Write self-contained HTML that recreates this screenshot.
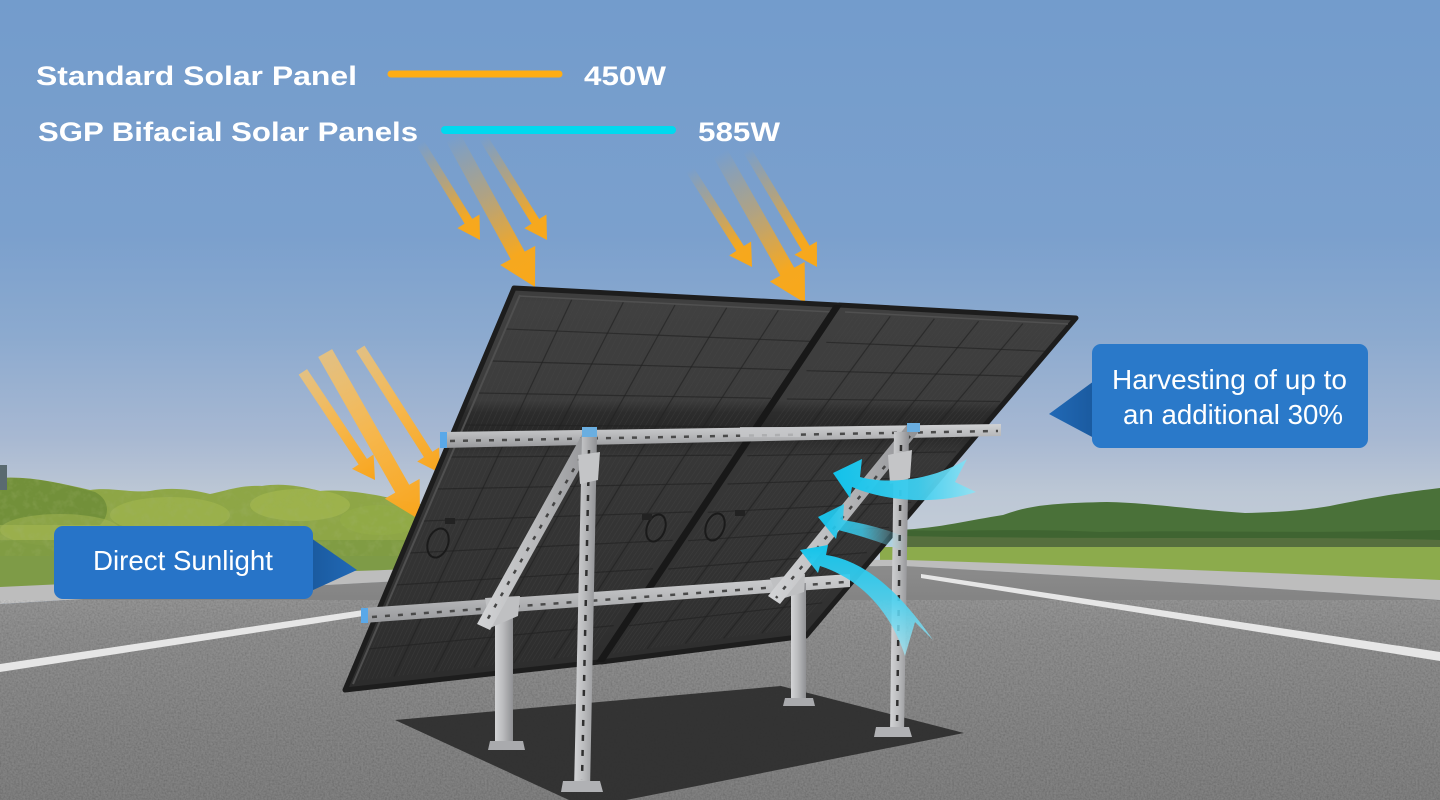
<!DOCTYPE html>
<html>
<head>
<meta charset="utf-8">
<style>
html,body{margin:0;padding:0;background:#7a9fcc;}
svg{display:block;}
text{font-family:"Liberation Sans","DejaVu Sans",sans-serif;}
</style>
</head>
<body>
<svg id="scene" width="1440" height="800" viewBox="0 0 1440 800" xmlns="http://www.w3.org/2000/svg">
<defs>
  <linearGradient id="sky" x1="0" y1="0" x2="0" y2="560" gradientUnits="userSpaceOnUse">
    <stop offset="0" stop-color="#739ccc"/>
    <stop offset="0.42" stop-color="#7ba0cd"/>
    <stop offset="0.6" stop-color="#8caacf"/>
    <stop offset="0.78" stop-color="#a7b8d2"/>
    <stop offset="0.88" stop-color="#bcc7d5"/>
    <stop offset="1" stop-color="#c6cfd9"/>
  </linearGradient>
  <linearGradient id="road" x1="0" y1="560" x2="0" y2="800" gradientUnits="userSpaceOnUse">
    <stop offset="0" stop-color="#8d8d8d"/>
    <stop offset="0.3" stop-color="#7c7c7c"/>
    <stop offset="0.7" stop-color="#717171"/>
    <stop offset="1" stop-color="#6b6b6b"/>
  </linearGradient>
  <linearGradient id="panelG" x1="0" y1="288" x2="0" y2="690" gradientUnits="userSpaceOnUse">
    <stop offset="0" stop-color="#3c3c3c"/>
    <stop offset="0.04" stop-color="#404040"/>
    <stop offset="0.28" stop-color="#3c3c3c"/>
    <stop offset="0.31" stop-color="#2c2c2c"/>
    <stop offset="0.36" stop-color="#272727"/>
    <stop offset="0.42" stop-color="#373737"/>
    <stop offset="0.75" stop-color="#323232"/>
    <stop offset="1" stop-color="#2c2c2c"/>
  </linearGradient>
  <linearGradient id="orTop" x1="0" y1="0" x2="1" y2="0">
    <stop offset="0" stop-color="#f5a623" stop-opacity="0"/>
    <stop offset="0.4" stop-color="#f4a726" stop-opacity="0.45"/>
    <stop offset="0.78" stop-color="#f6a81f" stop-opacity="1"/>
    <stop offset="1" stop-color="#f8a81a" stop-opacity="1"/>
  </linearGradient>
  <linearGradient id="orSide" x1="0" y1="0" x2="1" y2="0">
    <stop offset="0" stop-color="#fcc66a" stop-opacity="0.75"/>
    <stop offset="0.5" stop-color="#fab644" stop-opacity="0.95"/>
    <stop offset="1" stop-color="#f8a51c" stop-opacity="1"/>
  </linearGradient>
  <linearGradient id="cy1" x1="0" y1="0" x2="1" y2="0">
    <stop offset="0" stop-color="#12c2ea"/>
    <stop offset="0.6" stop-color="#3fcff0" stop-opacity="0.95"/>
    <stop offset="1" stop-color="#8fe3f5" stop-opacity="0.9"/>
  </linearGradient>
  <linearGradient id="cy2" x1="0" y1="0" x2="1" y2="0">
    <stop offset="0" stop-color="#14c3ea"/>
    <stop offset="0.5" stop-color="#3fcff0" stop-opacity="0.8"/>
    <stop offset="1" stop-color="#8fe3f5" stop-opacity="0"/>
  </linearGradient>
  <linearGradient id="cy3" x1="0" y1="0" x2="0" y2="1">
    <stop offset="0" stop-color="#14c3ea"/>
    <stop offset="0.5" stop-color="#4bd2f1" stop-opacity="0.9"/>
    <stop offset="1" stop-color="#a4e8f6" stop-opacity="0.75"/>
  </linearGradient>
  <linearGradient id="legG" x1="0" y1="0" x2="1" y2="0">
    <stop offset="0" stop-color="#d3d4d6"/>
    <stop offset="0.45" stop-color="#babbbd"/>
    <stop offset="1" stop-color="#8f9093"/>
  </linearGradient>
  <linearGradient id="railG" x1="0" y1="0" x2="0" y2="1">
    <stop offset="0" stop-color="#d0d1d3"/>
    <stop offset="0.45" stop-color="#b9babc"/>
    <stop offset="1" stop-color="#97989b"/>
  </linearGradient>
  <linearGradient id="triG" x1="0" y1="0" x2="1" y2="0">
    <stop offset="0" stop-color="#1a5a9f"/>
    <stop offset="1" stop-color="#2169b6"/>
  </linearGradient>
  <linearGradient id="triG2" x1="1" y1="0" x2="0" y2="0">
    <stop offset="0" stop-color="#1a5a9f"/>
    <stop offset="1" stop-color="#2169b6"/>
  </linearGradient>
  <filter id="noise" x="0" y="0" width="100%" height="100%">
    <feTurbulence type="fractalNoise" baseFrequency="0.55" numOctaves="2" seed="3"/>
    <feColorMatrix type="matrix" values="1 0 0 0 0  1 0 0 0 0  1 0 0 0 0  0 0 0 0 0.28"/>
  </filter>
  <filter id="leafy" x="0" y="0" width="100%" height="100%">
    <feTurbulence type="fractalNoise" baseFrequency="0.12" numOctaves="3" seed="7"/>
    <feColorMatrix type="matrix" values="0 0 0 0 0.35  0 0 0 0 0.45  0 0 0 0 0.15  1 0 0 0 -0.45"/>
  </filter>
  <clipPath id="treeClip">
    <path d="M0,560 L0,478 C30,476 60,483 90,490 C110,487 130,493 150,491 C170,487 190,489 210,494 C226,491 240,485 262,486 C282,483 300,486 320,491 C345,489 372,494 400,500 L430,506 L430,560 Z"/>
  </clipPath>
</defs>

<!-- SKY -->
<rect x="0" y="0" width="1440" height="600" fill="url(#sky)"/>

<!-- LEFT TREES -->
<path d="M0,560 L0,478 C30,476 60,483 90,490 C110,487 130,493 150,491 C170,487 190,489 210,494 C226,491 240,485 262,486 C282,483 300,486 320,491 C345,489 372,494 400,500 L430,506 L430,560 Z" fill="#8ea646"/>
<g clip-path="url(#treeClip)">
  <path d="M0,478 C30,476 60,483 95,492 C110,500 110,515 100,525 L0,525 Z" fill="#72903a"/>
  <ellipse cx="170" cy="515" rx="60" ry="18" fill="#a2b84e" opacity="0.6"/>
  <ellipse cx="300" cy="505" rx="50" ry="16" fill="#a6ba50" opacity="0.6"/>
  <ellipse cx="380" cy="520" rx="40" ry="15" fill="#93ad46" opacity="0.6"/>
  <ellipse cx="60" cy="530" rx="60" ry="16" fill="#a5b852" opacity="0.5"/>
  <rect x="0" y="540" width="430" height="20" fill="#7d9a42" opacity="0.8"/>
  <rect x="0" y="470" width="430" height="90" filter="url(#leafy)" opacity="0.7"/>
</g>
<rect x="0" y="465" width="7" height="25" fill="#5a6a70"/>

<!-- RIGHT HILL -->
<path d="M900,550 L900,530 C940,528 970,520 1003,515 C1030,505 1055,503 1107,502 C1150,503 1176,508 1245,513 C1280,512 1300,511 1330,506 C1360,500 1390,494 1440,488 L1440,550 Z" fill="#4a7139"/>
<path d="M900,550 L900,530 C960,532 1020,528 1100,532 C1200,530 1300,534 1440,530 L1440,550 Z" fill="#3f6431"/>
<path d="M900,548 L1440,548 L1440,540 C1300,536 1100,540 900,536 Z" fill="#566f3e"/>

<!-- GRASS -->
<path d="M0,556 L430,556 L430,571 L0,588 Z" fill="#7e9b47"/>
<path d="M880,547 L1440,547 L1440,581 L880,561 Z" fill="#8cab4c"/>

<!-- CURB -->
<path d="M0,587 C150,580 300,572 420,569 C600,563 800,559 905,560 C1100,566 1300,574 1440,580 L1440,600 C1300,590 1100,577 905,566 C800,566 600,572 420,580 C300,586 150,595 0,604 Z" fill="#bdbdbd"/>

<!-- ROAD -->
<path d="M0,604 C150,595 300,586 420,580 C600,572 800,566 905,566 C1100,577 1300,590 1440,600 L1440,800 L0,800 Z" fill="url(#road)"/>
<rect x="0" y="600" width="1440" height="200" filter="url(#noise)" opacity="0.7"/>

<!-- LANE LINES -->
<polygon points="0,664 370,609 370,615 0,672" fill="#e6e6e6"/>
<polygon points="921,574 1440,652 1440,661 921,578" fill="#e6e6e6"/>

<!-- GROUND SHADOW -->
<polygon points="395,720 781,686 964,733 626,800 569,800" fill="#2c2c2c" opacity="0.92"/>

<!-- ORANGE ARROWS (side group) -->
<g transform="translate(375,480) rotate(56.3)"><path d="M-130,-5 L-22,-5 L-22,-13 L0,0 L-22,13 L-22,5 L-130,5 Z" fill="url(#orSide)"/></g>
<g transform="translate(420,520) rotate(60.4)"><path d="M-192,-8 L-36,-8 L-36,-20 L0,0 L-36,20 L-36,8 L-192,8 Z" fill="url(#orSide)"/></g>
<g transform="translate(440,473) rotate(57.4)"><path d="M-148,-5 L-22,-5 L-22,-13 L0,0 L-22,13 L-22,5 L-148,5 Z" fill="url(#orSide)"/></g>

<!-- ORANGE ARROWS (top groups) -->
<g transform="translate(480,240) rotate(58.3)"><path d="M-114,-4.5 L-22,-4.5 L-22,-13 L0,0 L-22,13 L-22,4.5 L-114,4.5 Z" fill="url(#orTop)"/></g>
<g transform="translate(535,287) rotate(61.3)"><path d="M-171,-8 L-36,-8 L-36,-20 L0,0 L-36,20 L-36,8 L-171,8 Z" fill="url(#orTop)"/></g>
<g transform="translate(547,240) rotate(58.1)"><path d="M-121,-4.5 L-22,-4.5 L-22,-13 L0,0 L-22,13 L-22,4.5 L-121,4.5 Z" fill="url(#orTop)"/></g>
<g transform="translate(752,267) rotate(57.4)"><path d="M-115,-4.5 L-22,-4.5 L-22,-13 L0,0 L-22,13 L-22,4.5 L-115,4.5 Z" fill="url(#orTop)"/></g>
<g transform="translate(805,303) rotate(60.5)"><path d="M-172,-8 L-36,-8 L-36,-20 L0,0 L-36,20 L-36,8 L-172,8 Z" fill="url(#orTop)"/></g>
<g transform="translate(817,267) rotate(59.1)"><path d="M-136,-4.5 L-22,-4.5 L-22,-13 L0,0 L-22,13 L-22,4.5 L-136,4.5 Z" fill="url(#orTop)"/></g>

<!-- PANELS -->
<polygon points="514,288 837,305 599,662 345,690" fill="url(#panelG)" stroke="#1d1d1d" stroke-width="5" stroke-linejoin="round"/>
<polygon points="839,305 1076,318 806,636 601,662" fill="url(#panelG)" stroke="#1d1d1d" stroke-width="5" stroke-linejoin="round"/>
<g id="grid"></g>
<!-- frame rims -->
<line x1="519" y1="296" x2="832" y2="312" stroke="#505050" stroke-width="1.5"/>
<line x1="845" y1="312" x2="1068" y2="324" stroke="#505050" stroke-width="1.5"/>
<line x1="520" y1="295" x2="353" y2="684" stroke="#4f4f4f" stroke-width="2"/>
<polygon points="834,305 842,305 604,662 596,662" fill="#181818"/>
<!-- junction boxes / cables -->
<g fill="none" stroke="#1a1a1a" stroke-width="2">
  <ellipse cx="438" cy="543" rx="10" ry="15" transform="rotate(20 438 543)"/>
  <ellipse cx="656" cy="528" rx="9" ry="14" transform="rotate(20 656 528)"/>
  <ellipse cx="715" cy="527" rx="9" ry="14" transform="rotate(20 715 527)"/>
</g>
<rect x="445" y="518" width="10" height="6" fill="#222"/>
<rect x="642" y="514" width="10" height="6" fill="#222"/>
<rect x="735" y="510" width="10" height="6" fill="#222"/>

<!-- TOP RAIL -->
<polygon points="442,432 1001,424 1001,436 442,448" fill="url(#railG)"/>
<line x1="450" y1="441" x2="998" y2="431" stroke="#4a4a4a" stroke-width="2.5" stroke-dasharray="5 8"/>
<polygon points="440,432 447,432 447,448 440,448" fill="#5aa8e8"/>
<rect x="740" y="427" width="60" height="10" fill="#c6c7c9" opacity="0.8"/>

<!-- LOWER RAIL -->
<polygon points="363,608 850,574 850,587 363,623" fill="url(#railG)"/>
<line x1="372" y1="617" x2="846" y2="582" stroke="#4a4a4a" stroke-width="2.5" stroke-dasharray="5 8"/>
<polygon points="361,608 368,608 368,623 361,623" fill="#5aa8e8"/>

<!-- BACK LEGS -->
<polygon points="495,603 513,603 513,746 495,746" fill="url(#legG)"/>
<polygon points="490,741 523,741 525,750 488,750" fill="#a9aaad"/>
<polygon points="485,598 520,596 518,616 490,628" fill="#bfc0c2"/>
<polygon points="791,583 806,583 806,702 791,702" fill="url(#legG)"/>
<polygon points="785,698 813,698 815,706 783,706" fill="#a9aaad"/>
<polygon points="770,578 805,574 804,592 778,600" fill="#bfc0c2"/>

<!-- DIAGONAL BRACES -->
<polygon points="584,431 598,436 490,630 477,624" fill="url(#legG)"/>
<line x1="587" y1="446" x2="486" y2="622" stroke="#454545" stroke-width="2.5" stroke-dasharray="4 9"/>
<polygon points="907,425 920,430 780,604 768,596" fill="url(#legG)"/>
<line x1="910" y1="436" x2="776" y2="598" stroke="#454545" stroke-width="2.5" stroke-dasharray="4 9"/>

<!-- FRONT LEGS -->
<polygon points="582,436 597,436 590,790 574,790" fill="url(#legG)"/>
<line x1="589" y1="450" x2="582" y2="780" stroke="#2f2f2f" stroke-width="2.5" stroke-dasharray="6 9"/>
<polygon points="563,781 600,781 603,792 561,792" fill="#b0b1b4"/>
<polygon points="582,427 597,427 597,437 582,437" fill="#6aaee0"/>
<polygon points="578,455 600,452 598,480 580,484" fill="#c4c5c7"/>

<polygon points="894,432 909,432 904,733 890,733" fill="url(#legG)"/>
<line x1="901" y1="445" x2="897" y2="725" stroke="#2f2f2f" stroke-width="2.5" stroke-dasharray="6 9"/>
<polygon points="876,727 909,727 912,737 874,737" fill="#b0b1b4"/>
<polygon points="907,423 920,423 920,432 907,432" fill="#6aaee0"/>
<polygon points="888,455 912,450 910,478 890,484" fill="#c4c5c7"/>

<!-- CYAN ARROWS -->
<path d="M833,473 L862,459 L860,477 C885,484 930,482 967,459 L955,482 L976,492 C940,504 890,503 852,487 L850,498 Z" fill="url(#cy1)"/>
<path d="M818,517 L844,504 L843,520 Q875,525 906,537 L906,552 Q870,538 838,530 L836,539 Z" fill="url(#cy2)"/>
<path d="M800,550 L828,545 L826,555 C860,560 895,585 933,640 L915,622 L905,656 C890,610 860,579 820,566 L818,573 Z" fill="url(#cy3)"/>

<!-- CALLOUT: Harvesting -->
<polygon points="1094,381 1049,414 1094,438" fill="url(#triG2)"/>
<rect x="1092" y="344" width="276" height="104" rx="9" ry="9" fill="#2a79c9"/>
<text x="1112" y="389" font-size="28" fill="#ffffff" textLength="235" lengthAdjust="spacingAndGlyphs">Harvesting of up to</text>
<text x="1123" y="424" font-size="28" fill="#ffffff" textLength="220" lengthAdjust="spacingAndGlyphs">an additional 30%</text>

<!-- CALLOUT: Direct Sunlight -->
<polygon points="311,538 357,570 311,591" fill="url(#triG)"/>
<rect x="54" y="526" width="259" height="73" rx="9" ry="9" fill="#2774c8"/>
<text x="93" y="570" font-size="28" fill="#ffffff" textLength="180" lengthAdjust="spacingAndGlyphs">Direct Sunlight</text>

<!-- LEGEND -->
<text x="36" y="85" font-size="27" font-weight="bold" fill="#ffffff" textLength="321" lengthAdjust="spacingAndGlyphs">Standard Solar Panel</text>
<line x1="391" y1="74" x2="559" y2="74" stroke="#ffad14" stroke-width="7" stroke-linecap="round"/>
<text x="584" y="85" font-size="27" font-weight="bold" fill="#ffffff" textLength="82" lengthAdjust="spacingAndGlyphs">450W</text>
<text x="38" y="141" font-size="27" font-weight="bold" fill="#ffffff" textLength="380" lengthAdjust="spacingAndGlyphs">SGP Bifacial Solar Panels</text>
<line x1="445" y1="130" x2="672" y2="130" stroke="#00d9ef" stroke-width="8" stroke-linecap="round"/>
<text x="698" y="141" font-size="27" font-weight="bold" fill="#ffffff" textLength="82" lengthAdjust="spacingAndGlyphs">585W</text>
</svg>
<script>
(function(){
  var ns="http://www.w3.org/2000/svg";
  var g=document.getElementById('grid');
  function L(a,b,t){return [a[0]+(b[0]-a[0])*t,a[1]+(b[1]-a[1])*t];}
  function ln(p,q,c,w,o){
    var e=document.createElementNS(ns,'line');
    e.setAttribute('x1',p[0].toFixed(1));e.setAttribute('y1',p[1].toFixed(1));
    e.setAttribute('x2',q[0].toFixed(1));e.setAttribute('y2',q[1].toFixed(1));
    e.setAttribute('stroke',c);e.setAttribute('stroke-width',w);e.setAttribute('stroke-opacity',o);
    g.appendChild(e);
  }
  function panel(TL,TR,BR,BL,cols,rows){
    var n=cols*9;
    for(var i=1;i<n;i++){ if(i%9===0) continue; var t=i/n; ln(L(TL,TR,t),L(BL,BR,t),'#4b4b4b',0.7,0.35);}
    for(var i=1;i<cols;i++){var t=i/cols; ln(L(TL,TR,t),L(BL,BR,t),'#222222',1.2,0.65);}
    for(var j=1;j<rows;j++){var t=j/rows; ln(L(TL,BL,t),L(TR,BR,t),'#222222',1.2,0.65);}
  }
  panel([520,297],[830,313],[594,654],[354,681],6,12);
  panel([846,314],[1067,326],[800,628],[609,654],5,12);
})();
</script>
</body>
</html>
